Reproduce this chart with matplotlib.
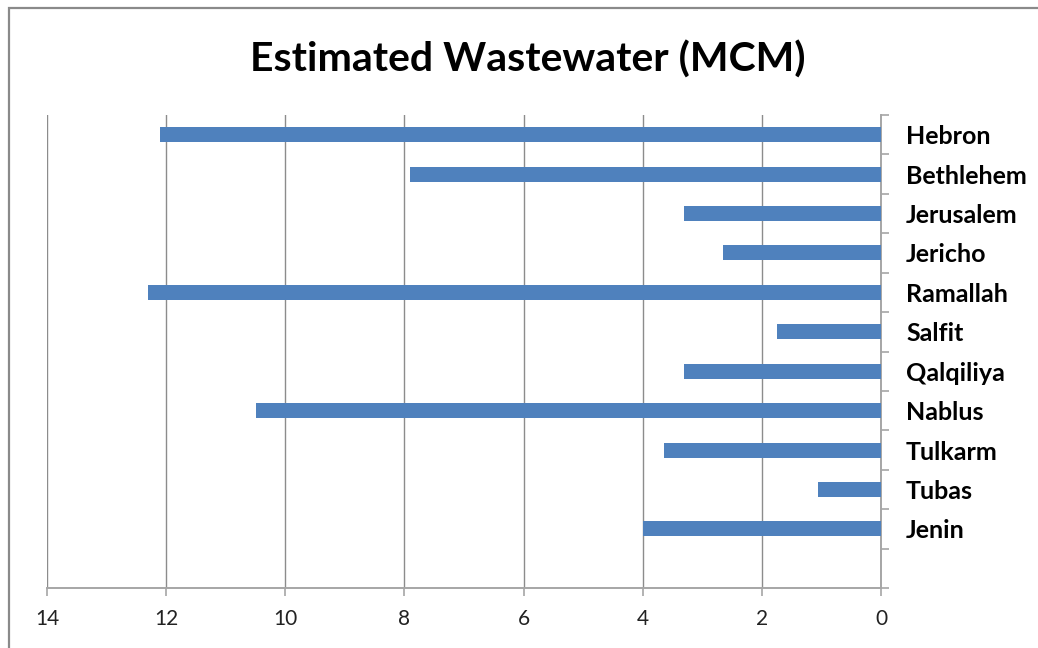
import matplotlib
matplotlib.use('Agg')
import matplotlib.pyplot as plt
from matplotlib.patches import Rectangle

# Estimated wastewater per governorate, million cubic metres
governorates = ['Hebron', 'Bethlehem', 'Jerusalem', 'Jericho', 'Ramallah', 'Salfit',
                'Qalqiliya', 'Nablus', 'Tulkarm', 'Tubas', 'Jenin']
wastewater = [12.1, 7.9, 3.3, 2.65, 12.3, 1.75, 3.3, 10.5, 3.65, 1.05, 4.0]
x_ticks = [14, 12, 10, 8, 6, 4, 2, 0]

bar_color = '#4F81BD'
axis_gray = '#A6A6A6'
grid_gray = '#8C8C8C'
label_font = ['Lato', 'DejaVu Sans']

fig = plt.figure(figsize=(10.38, 6.48), dpi=100)
ax = fig.add_axes([47 / 1038, 1 - 588 / 648, (881 - 47) / 1038, (588 - 115) / 648])

ypos = list(range(len(governorates)))
ax.barh(ypos, wastewater, height=0.38, color=bar_color, zorder=3)

# reversed value axis, categories read on the right side
ax.set_xlim(14, 0)
ax.set_ylim(len(governorates) + 0.5, -0.5)
ax.set_xticks(x_ticks)
ax.set_xticklabels([str(t) for t in x_ticks], family=label_font, fontsize=15, color='#222222')
ax.xaxis.grid(True, color=grid_gray, linewidth=1.0, zorder=0)

ax.yaxis.tick_right()
ax.set_yticks(ypos)
ax.set_yticklabels(governorates, family=label_font, fontsize=18, fontweight='bold')
ax.set_yticks([i - 0.5 for i in range(len(governorates) + 2)], minor=True)
ax.tick_params(axis='y', which='major', length=0, pad=18)
ax.tick_params(axis='y', which='minor', length=5.8, color=axis_gray, width=1.2, right=True, left=False)
ax.tick_params(axis='x', which='major', length=5.8, color=axis_gray, width=1.2, pad=9)

for side in ['top', 'left']:
    ax.spines[side].set_visible(False)
for side in ['bottom', 'right']:
    ax.spines[side].set_color(axis_gray)
    ax.spines[side].set_linewidth(1.4)

fig.text(528 / 1038, 1 - 60 / 648, 'Estimated Wastewater (MCM)', ha='center', va='center',
         family=label_font, fontsize=29.5, fontweight='bold')

# chart area frame
fig.patches.append(Rectangle((9 / 1038, -0.05), 1.2, 1 - 8 / 648 + 0.05, transform=fig.transFigure,
                             fill=False, edgecolor='#8A8A8A', linewidth=1.6))

fig.savefig('out.png', dpi=100)
